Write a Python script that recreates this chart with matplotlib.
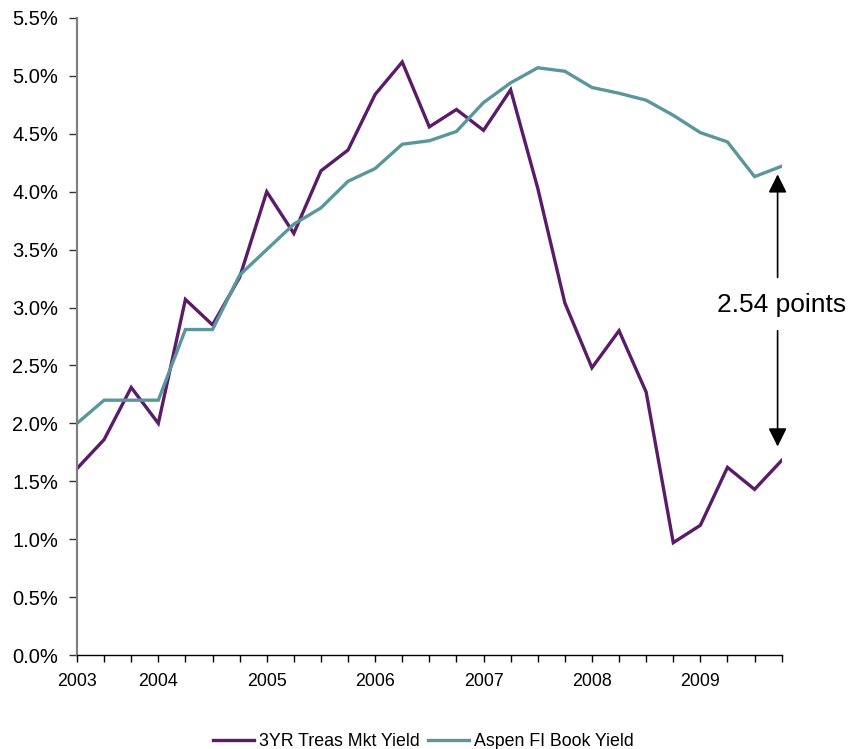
import matplotlib
matplotlib.use("Agg")
import matplotlib.pyplot as plt
import numpy as np

plt.rcParams['font.family'] = ['Liberation Sans', 'DejaVu Sans']

# quarterly yields, in percent
quarter_labels = ['2003', '', '', '2004', '', '', '', '2005', '', '', '',
                  '2006', '', '', '', '2007', '', '', '', '2008', '', '', '',
                  '2009', '', '', '']
treas_yield = [1.61, 1.86, 2.31, 2.00, 3.07, 2.85, 3.26, 4.00, 3.64, 4.18,
               4.36, 4.84, 5.12, 4.56, 4.71, 4.53, 4.88, 4.03, 3.04, 2.48,
               2.80, 2.27, 0.97, 1.12, 1.62, 1.43, 1.68]
book_yield = [2.00, 2.20, 2.20, 2.20, 2.81, 2.81, 3.28, 3.50, 3.72, 3.86,
              4.09, 4.20, 4.41, 4.44, 4.52, 4.77, 4.94, 5.07, 5.04, 4.90,
              4.85, 4.79, 4.66, 4.51, 4.43, 4.13, 4.22]

purple = '#5A1C68'
teal = '#5B969C'

fig = plt.figure(figsize=(8.5, 7.49), dpi=100)
ax = fig.add_axes([0.0906, 0.1255, 0.829, 0.8505])

x = np.arange(len(quarter_labels))
ax.plot(x, treas_yield, color=purple, lw=2.4, label='3YR Treas Mkt Yield',
        solid_joinstyle='miter')
ax.plot(x, book_yield, color=teal, lw=2.4, label='Aspen FI Book Yield',
        solid_joinstyle='miter')

ax.set_xlim(0, len(x) - 1)
ax.set_ylim(0, 5.5)
ax.set_xticks(x)
ax.set_xticklabels(quarter_labels, fontsize=12.8)
yt = np.arange(0, 5.51, 0.5)
ax.set_yticks(yt)
ax.set_yticklabels(['%.1f%%' % v for v in yt], fontsize=14.5)
ax.tick_params(axis='x', length=5, width=1, pad=8, color='black')
ax.tick_params(axis='y', length=6, width=1, pad=7.5, color='#333333')

for s in ['top', 'right']:
    ax.spines[s].set_visible(False)
ax.spines['left'].set_color('#808080')
ax.spines['left'].set_linewidth(1.6)
ax.spines['bottom'].set_color('black')
ax.spines['bottom'].set_linewidth(1.0)

# spread between the two yields at the last quarter
gap = book_yield[-1] - treas_yield[-1]
ax_x = len(x) - 1.15
arrow = dict(arrowstyle='-|>', color='black', lw=1.2, mutation_scale=28,
             shrinkA=0, shrinkB=0)
ax.annotate('', xy=(ax_x, book_yield[-1] - 0.07), xytext=(ax_x, 3.26),
            arrowprops=arrow)
ax.annotate('', xy=(ax_x, treas_yield[-1] + 0.12), xytext=(ax_x, 2.80),
            arrowprops=arrow)
ax.text(len(x) - 1.0, 3.02, '%.2f points' % gap, fontsize=19,
        ha='center', va='center', clip_on=False)

fig.legend(loc='center', bbox_to_anchor=(0.498, 0.0100), ncol=2,
           frameon=False, fontsize=12.8, handlelength=2.3, handletextpad=0.3,
           columnspacing=0.45, borderpad=0)

fig.savefig('out.png', dpi=100)
